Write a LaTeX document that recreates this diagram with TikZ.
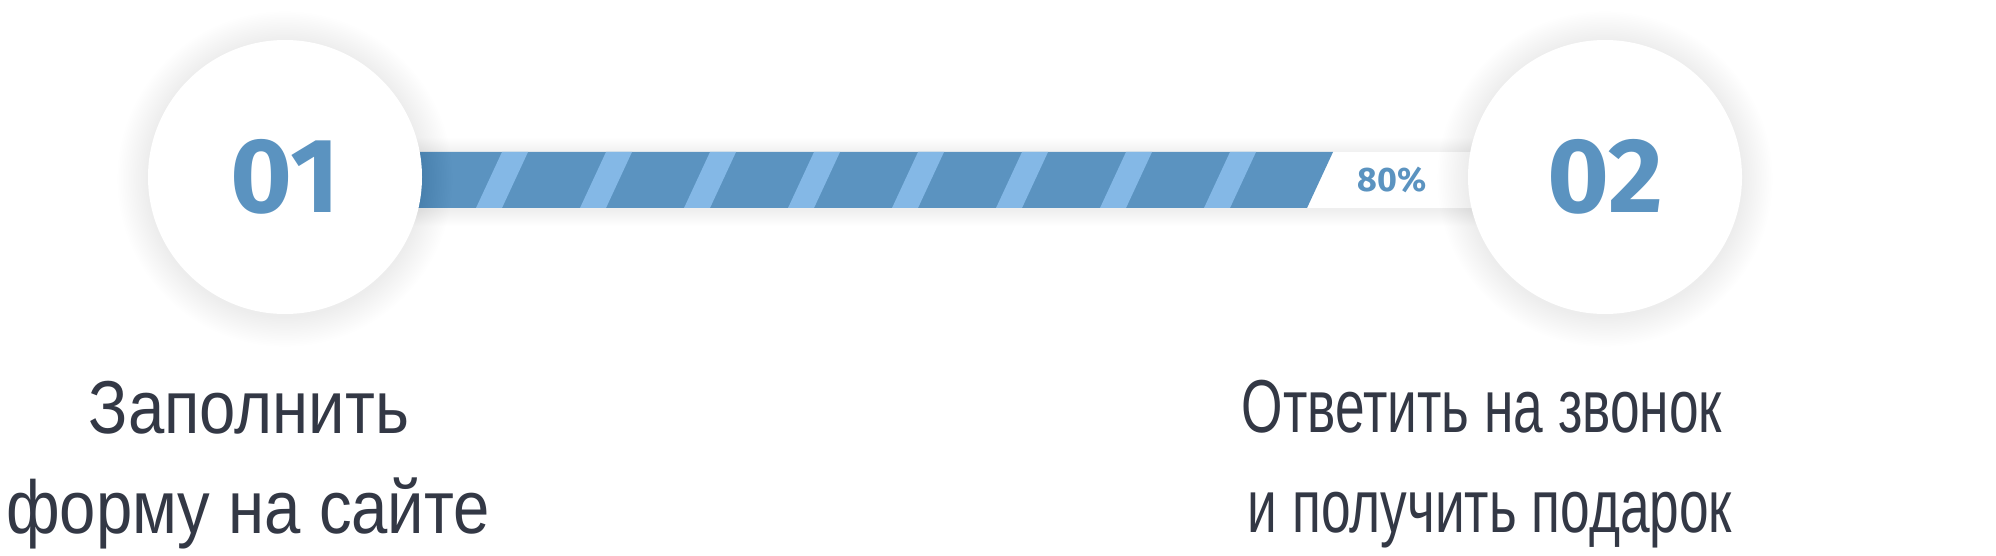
\documentclass[tikz,border=0pt]{standalone}
\usepackage{fontspec}
\usepackage{graphicx}
\setmainfont{Liberation Sans}
\newfontfamily\digitfont{Fira Sans}
\definecolor{barblue}{HTML}{5B93C0}
\definecolor{stripecol}{HTML}{84B8E6}
\definecolor{txt}{HTML}{333845}
\tikzset{
  stepcircle/.style={circle,fill=white,minimum size=274pt,inner sep=0pt,text=barblue,font=\digitfont\bfseries\fontsize{106}{106}\selectfont},
  label text/.style={anchor=base,text=txt,inner sep=0pt,font=\fontsize{75}{100}\selectfont},
}
\begin{document}
\begin{tikzpicture}[x=1pt,y=-1pt]
\useasboundingbox[fill=white] (0,0) rectangle (1996,556);
% bar shadow
\foreach \i in {1,...,16} \fill[black,opacity=0.004] (285,152-\i+2) rectangle (1605,208+\i+2);
\fill[white] (285,152) rectangle (1605,208);
% blue progress
\fill[barblue] (285,152) -- (1333,152) -- (1307,208) -- (285,208) -- cycle;
\begin{scope}
\clip (285,152) -- (1333,152) -- (1307,208) -- (285,208) -- cycle;
\foreach \x in {502,606,...,1230}
  \fill[stripecol] (\x,152) -- (\x+26,152) -- (\x,208) -- (\x-26,208) -- cycle;
\end{scope}
\node[text=barblue,font=\digitfont\bfseries\fontsize{34}{34}\selectfont] (pct) at (1392,180) {80\%};
% circle shadows
\foreach \c in {285,1605}
  \foreach \i in {1,...,18} \fill[black,opacity=0.004] (\c,179) circle[radius=137+1.7*\i];
\node[stepcircle] (c1) at (285,177) {01};
\node[stepcircle] (c2) at (1605,177) {02};
% labels
\node[label text] (l1a) at (249,433) {\scalebox{0.87}[1]{Заполнить}};
\node[label text] (l1b) at (248,533) {\scalebox{0.87}[1]{форму на сайте}};
\node[label text] (l2a) at (1482,432) {\scalebox{0.71}[1]{Ответить на звонок}};
\node[label text] (l2b) at (1490,532) {\scalebox{0.71}[1]{и получить подарок}};
\end{tikzpicture}
\end{document}
